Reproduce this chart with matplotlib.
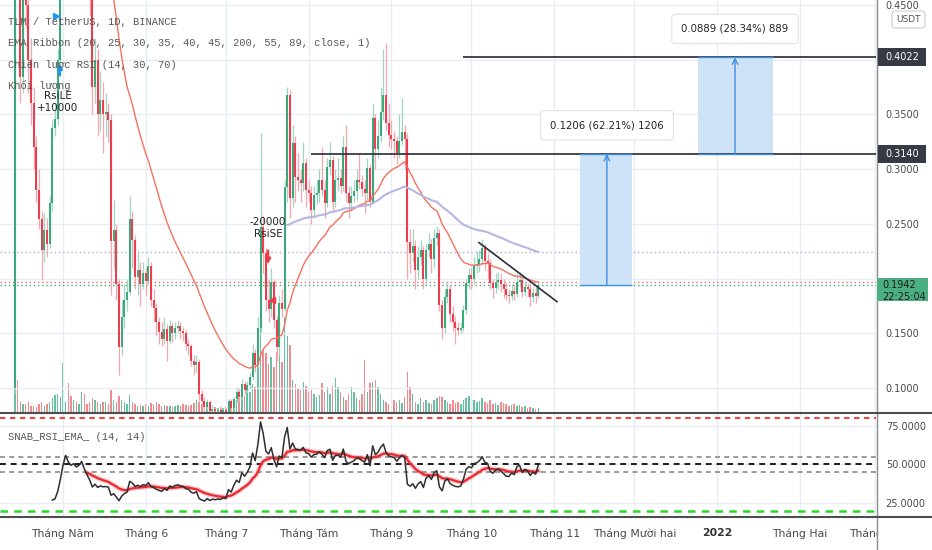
import numpy as np
import pandas as pd
import matplotlib
matplotlib.use("Agg")
import matplotlib.pyplot as plt
import matplotlib.dates as mdates
from matplotlib.patches import Rectangle, FancyBboxPatch
from matplotlib.lines import Line2D
from matplotlib.transforms import IdentityTransform

# ---- TLM / USDT daily candles ----
start_date = "2021-04-13"
first_open = 0.100

closes = [0.75, 0.65, 0.384, 0.50, 0.45, 0.40, 0.36, 0.32, 0.281, 0.254,
          0.226, 0.244, 0.232, 0.269, 0.338, 0.346, 0.40, 0.50, 0.65, 0.78,
          0.70, 0.66, 0.68, 0.64, 0.66, 0.70, 0.62, 0.55, 0.48, 0.375,
          0.40, 0.35, 0.363, 0.35, 0.352, 0.345, 0.234, 0.244, 0.195, 0.137,
          0.165, 0.18, 0.188, 0.254, 0.235, 0.201, 0.208, 0.195, 0.205, 0.198,
          0.211, 0.18, 0.173, 0.16, 0.151, 0.145, 0.154, 0.143, 0.157, 0.15,
          0.155, 0.157, 0.152, 0.15, 0.14, 0.138, 0.125, 0.121, 0.124, 0.094,
          0.088, 0.083, 0.087, 0.079, 0.081, 0.079, 0.08, 0.078, 0.08, 0.078,
          0.088, 0.082, 0.09, 0.096, 0.092, 0.104, 0.098, 0.103, 0.11, 0.132,
          0.121, 0.155, 0.247, 0.223, 0.18, 0.172, 0.197, 0.162, 0.137, 0.178,
          0.172, 0.284, 0.368, 0.274, 0.324, 0.293, 0.29, 0.287, 0.306, 0.281,
          0.278, 0.263, 0.276, 0.278, 0.29, 0.281, 0.269, 0.302, 0.308, 0.27,
          0.29, 0.292, 0.285, 0.32, 0.278, 0.269, 0.275, 0.28, 0.29, 0.288,
          0.282, 0.278, 0.301, 0.27, 0.347, 0.318, 0.33, 0.352, 0.368, 0.342,
          0.331, 0.328, 0.326, 0.315, 0.326, 0.334, 0.328, 0.233, 0.223, 0.23,
          0.208, 0.22, 0.226, 0.20, 0.226, 0.232, 0.218, 0.237, 0.242, 0.176,
          0.155, 0.183, 0.19, 0.168, 0.16, 0.155, 0.153, 0.155, 0.171, 0.196,
          0.203, 0.20, 0.211, 0.213, 0.218, 0.228, 0.216, 0.214, 0.196, 0.191,
          0.197, 0.199, 0.195, 0.19, 0.185, 0.184, 0.189, 0.186, 0.197, 0.199,
          0.188, 0.192, 0.19, 0.183, 0.187, 0.184, 0.1942]

highs = [0.92, 0.80, 0.68, 0.56, 0.53, 0.47, 0.42, 0.375, 0.33, 0.30,
         0.262, 0.26, 0.255, 0.275, 0.345, 0.36, 0.41, 0.52, 0.68, 0.85,
         0.80, 0.72, 0.71, 0.70, 0.69, 0.74, 0.71, 0.63, 0.57, 0.49,
         0.42, 0.41, 0.39, 0.38, 0.37, 0.36, 0.35, 0.272, 0.25, 0.20,
         0.18, 0.195, 0.20, 0.275, 0.262, 0.24, 0.225, 0.215, 0.215, 0.21,
         0.22, 0.215, 0.19, 0.178, 0.165, 0.16, 0.165, 0.158, 0.162, 0.16,
         0.16, 0.162, 0.16, 0.156, 0.153, 0.145, 0.14, 0.13, 0.13, 0.126,
         0.098, 0.092, 0.09, 0.089, 0.084, 0.083, 0.082, 0.082, 0.082, 0.082,
         0.09, 0.09, 0.092, 0.10, 0.099, 0.108, 0.106, 0.106, 0.115, 0.14,
         0.136, 0.165, 0.333, 0.258, 0.228, 0.20, 0.21, 0.20, 0.166, 0.185,
         0.19, 0.29, 0.375, 0.372, 0.34, 0.33, 0.315, 0.30, 0.325, 0.31,
         0.29, 0.285, 0.285, 0.29, 0.30, 0.32, 0.29, 0.31, 0.325, 0.312,
         0.30, 0.31, 0.30, 0.33, 0.34, 0.285, 0.285, 0.29, 0.30, 0.315,
         0.295, 0.29, 0.31, 0.305, 0.36, 0.35, 0.345, 0.375, 0.41, 0.415,
         0.36, 0.345, 0.335, 0.33, 0.35, 0.365, 0.34, 0.333, 0.245, 0.245,
         0.235, 0.23, 0.235, 0.23, 0.232, 0.242, 0.236, 0.245, 0.248, 0.245,
         0.18, 0.19, 0.196, 0.194, 0.175, 0.166, 0.16, 0.16, 0.176, 0.20,
         0.21, 0.21, 0.22, 0.225, 0.226, 0.236, 0.232, 0.222, 0.218, 0.20,
         0.205, 0.206, 0.205, 0.20, 0.196, 0.19, 0.195, 0.194, 0.205, 0.206,
         0.203, 0.197, 0.196, 0.194, 0.192, 0.192, 0.197]

lows = [0.095, 0.60, 0.36, 0.37, 0.43, 0.37, 0.34, 0.30, 0.27, 0.245,
        0.199, 0.215, 0.22, 0.228, 0.262, 0.33, 0.34, 0.39, 0.49, 0.63,
        0.66, 0.62, 0.64, 0.60, 0.62, 0.65, 0.60, 0.52, 0.44, 0.35,
        0.36, 0.33, 0.335, 0.315, 0.33, 0.325, 0.185, 0.21, 0.18, 0.112,
        0.13, 0.155, 0.17, 0.185, 0.21, 0.19, 0.185, 0.175, 0.19, 0.185,
        0.195, 0.175, 0.16, 0.148, 0.14, 0.138, 0.14, 0.125, 0.14, 0.142,
        0.145, 0.15, 0.145, 0.143, 0.135, 0.13, 0.12, 0.112, 0.115, 0.088,
        0.083, 0.079, 0.08, 0.075, 0.076, 0.076, 0.077, 0.075, 0.076, 0.075,
        0.076, 0.079, 0.08, 0.087, 0.088, 0.09, 0.094, 0.095, 0.10, 0.108,
        0.115, 0.118, 0.15, 0.205, 0.17, 0.16, 0.165, 0.155, 0.125, 0.13,
        0.165, 0.17, 0.27, 0.255, 0.265, 0.27, 0.28, 0.27, 0.28, 0.265,
        0.27, 0.25, 0.255, 0.268, 0.27, 0.275, 0.255, 0.265, 0.295, 0.262,
        0.265, 0.28, 0.278, 0.28, 0.27, 0.255, 0.262, 0.27, 0.272, 0.282,
        0.275, 0.26, 0.272, 0.265, 0.268, 0.30, 0.31, 0.325, 0.345, 0.335,
        0.32, 0.318, 0.31, 0.305, 0.31, 0.322, 0.30, 0.20, 0.205, 0.215,
        0.19, 0.20, 0.212, 0.19, 0.195, 0.22, 0.205, 0.21, 0.23, 0.17,
        0.145, 0.15, 0.178, 0.16, 0.152, 0.14, 0.148, 0.15, 0.152, 0.168,
        0.19, 0.19, 0.195, 0.205, 0.206, 0.212, 0.208, 0.20, 0.19, 0.182,
        0.187, 0.19, 0.188, 0.182, 0.18, 0.178, 0.18, 0.18, 0.183, 0.192,
        0.183, 0.184, 0.183, 0.175, 0.179, 0.178, 0.182]

# volume, relative units
volumes = [60, 32, 10, 8, 8, 10, 6, 6, 5, 8,
           10, 6, 8, 10, 14, 17, 18, 15, 49, 10,
           29, 16, 12, 10, 8, 20, 18, 8, 10, 14,
           12, 10, 8, 10, 10, 8, 22, 12, 10, 16,
           12, 10, 8, 17, 10, 8, 6, 7, 6, 8,
           6, 9, 8, 10, 8, 6, 7, 6, 6, 5,
           6, 7, 6, 8, 7, 6, 7, 9, 12, 10,
           8, 6, 5, 6, 5, 5, 4, 5, 4, 5,
           6, 8, 10, 12, 14, 18, 16, 22, 20, 28,
           25, 50, 99, 62, 59, 48, 55, 45, 60, 64,
           50, 95, 76, 67, 32, 28, 24, 22, 30, 26,
           20, 22, 18, 15, 17, 29, 20, 25, 18, 26,
           34, 25, 20, 15, 12, 18, 25, 20, 14, 12,
           18, 52, 20, 29, 30, 32, 25, 18, 12, 10,
           8, 9, 12, 10, 12, 9, 15, 40, 25, 18,
           10, 8, 14, 10, 12, 9, 8, 12, 14, 16,
           15, 12, 10, 8, 12, 9, 10, 8, 12, 14,
           16, 17, 12, 10, 11, 14, 10, 9, 12, 8,
           9, 7, 10, 9, 8, 6, 7, 8, 6, 7,
           5, 6, 4, 5, 4, 3, 4]

month_starts = ["2021-05-01", "2021-06-01", "2021-07-01", "2021-08-01", "2021-09-01",
                "2021-10-01", "2021-11-01", "2021-12-01", "2022-01-01", "2022-02-01",
                "2022-03-01"]
month_labels = ["Tháng Năm", "Tháng 6", "Tháng 7", "Tháng Tám", "Tháng 9", "Tháng 10",
                "Tháng 11", "Tháng Mười hai", "2022", "Tháng Hai", "Tháng Ba"]
price_ticks = [0.10, 0.15, 0.20, 0.25, 0.30, 0.35, 0.40, 0.45]
rsi_ticks = [25, 50, 75]

level_entry, level_t1, level_t2 = 0.1942, 0.3140, 0.4022
measure1_text = "0.1206 (62.21%) 1206"
measure2_text = "0.0889 (28.34%) 889"
countdown = "22:25:04"

# ---- indicators ----
dates = pd.date_range(start_date, periods=len(closes), freq="D")
x = mdates.date2num(dates)
opens = [first_open] + closes[:-1]
cl = pd.Series(closes)
ema_fast = cl.ewm(span=30, adjust=False).mean().values
ema_slow = cl.ewm(span=89, adjust=False).mean().values
ema_slow_vis = ema_slow.copy()
ema_slow_vis[:102] = np.nan

chg = np.diff(closes)
up = np.clip(chg, 0, None)
dn = np.clip(-chg, 0, None)
rsi = np.full(len(closes), np.nan)
au, ad = up[:14].mean(), dn[:14].mean()
rsi[14] = 100 - 100 / (1 + au / ad)
for k in range(14, len(chg)):
    au = (au * 13 + up[k]) / 14
    ad = (ad * 13 + dn[k]) / 14
    rsi[k + 1] = 100 - 100 / (1 + au / ad)
rsi_ema = np.full(len(closes), np.nan)
rsi_ema[27] = np.nanmean(rsi[14:28])
a = 2 / 15
for k in range(28, len(closes)):
    rsi_ema[k] = a * rsi[k] + (1 - a) * rsi_ema[k - 1]

def d(s):
    return mdates.date2num(pd.Timestamp(s))

# ---- figure ----
W, H = 932, 550
fig = plt.figure(figsize=(W / 100, H / 100), dpi=100)
fig.patch.set_facecolor("white")
ax = fig.add_axes([0, 1 - 412 / H, 876 / W, 412 / H])
axr = fig.add_axes([0, 1 - 517 / H, 876 / W, 104 / H])
axv = ax.twinx()
ax.set_zorder(axv.get_zorder() + 1)
ax.patch.set_visible(False)

xmin, xmax = d("2021-04-07 10:00"), d("2022-03-01 12:00")
grid_c = "#e8edf3"
txt_c = "#4a4a4a"
up_c, dn_c = "#3aa97c", "#ee3e4e"
upw_c, dnw_c = "#9fd6c2", "#f6a6ae"

for a_ in (ax, axr, axv):
    a_.set_xlim(xmin, xmax)
    for s in a_.spines.values():
        s.set_visible(False)

# volume
axv.set_ylim(0, 412)
vcol = ["#66c1a3" if c >= o else "#f28a91" for o, c in zip(opens, closes)]
axv.bar(x, volumes, width=0.55, color=vcol, linewidth=0)
axv.set_yticks([])

# price pane (0.40 and 0.20 sit under the level boxes, so no text there)
ax.set_ylim(0.078, 0.4546)
ax.set_axisbelow(True)
ax.set_xticks(mdates.date2num(pd.to_datetime(month_starts)))
ax.set_yticks(price_ticks)
ax.set_yticklabels(["" if t in (0.20, 0.40) else "%.4f" % t for t in price_ticks])
ax.yaxis.tick_right()
ax.tick_params(axis="x", length=0, labelbottom=False)
ax.tick_params(axis="y", length=0, pad=7, labelsize=7, labelcolor=txt_c)
ax.grid(True, color=grid_c, lw=1)

is_up = np.array(closes) >= np.array(opens)
ax.vlines(x, lows, highs, colors=[upw_c if u else dnw_c for u in is_up], lw=0.9, zorder=2)
body_lo = np.minimum(opens, closes)
body_h = np.maximum(np.abs(np.array(closes) - np.array(opens)), 0.0008)
ax.bar(x, body_h, bottom=body_lo, width=0.75, color=[up_c if u else dn_c for u in is_up],
       linewidth=0, zorder=3)

ax.plot(x, ema_fast, color="#f5705f", lw=1.0, zorder=4)
ax.plot(x, ema_slow_vis, color="#b6b6e4", lw=1.5, zorder=4)

ax.axhline(ema_slow[-1], color="#a9a9dc", ls=(0, (1, 2)), lw=1, zorder=1)
ax.axhline(ema_fast[-1], color="#f26d6d", ls=(0, (1, 2)), lw=1, zorder=1)
ax.axhline(closes[-1], color="#3aa97c", ls=(0, (1, 2)), lw=1, zorder=1)

# drawings: levels, trendline, measure boxes
ax.hlines(level_t1, d("2021-08-01 22:00"), xmax, color="#363a45", lw=1.3, zorder=5)
ax.hlines(level_t2, d("2021-09-27 19:00"), xmax, color="#363a45", lw=1.3, zorder=5)
ax.plot([d("2021-10-03 19:00"), d("2021-11-02")], [0.2328, 0.1789], color="#2a2e39", lw=1.2, zorder=5)

boxes = [(d("2021-11-10 14:00"), d("2021-11-30"), d("2021-11-20 17:00"), level_entry, level_t1, measure1_text),
         (d("2021-12-24 19:00"), d("2022-01-21 22:00"), d("2022-01-07 17:00"), level_t1, level_t2, measure2_text)]
for x0, x1, xa, y0, y1, label in boxes:
    ax.add_patch(Rectangle((x0, y0), x1 - x0, y1 - y0, facecolor="#cfe3f8", edgecolor="none", zorder=4))
    ax.hlines([y0, y1], x0, x1, color="#3d8fe0", lw=1, zorder=5)
    ax.annotate("", xy=(xa, y1), xytext=(xa, y0),
                arrowprops=dict(arrowstyle="->", color="#3d8fe0", lw=1, shrinkA=0, shrinkB=0,
                                mutation_scale=10), zorder=6)
    ax.text(xa, y1 + 0.026, label, ha="center", va="center", fontsize=7.3, color="#222222", zorder=7,
            bbox=dict(boxstyle="round,pad=0.95,rounding_size=0.35", fc="white", ec="#e2e2e2", lw=0.8))

# strategy marks
ax.text(d("2021-04-29 02:00"), 0.361, "RsiLE\n+10000", ha="center", va="center", fontsize=7.5,
        color="#222222", linespacing=1.25, zorder=7)
ax.annotate("", xy=(d("2021-04-29 21:00"), 0.399), xytext=(d("2021-04-29 21:00"), 0.383),
            arrowprops=dict(arrowstyle="-|>", color="#2196f3", lw=1.6, mutation_scale=7), zorder=7)
ax.plot(d("2021-04-28 10:00"), 0.440, marker=">", color="#2196f3", ms=5, zorder=7)
ax.text(d("2021-07-16 19:00"), 0.246, "-20000\nRsiSE", ha="center", va="center", fontsize=7.5,
        color="#222222", linespacing=1.25, zorder=7)
ax.annotate("", xy=(d("2021-07-16 19:00"), 0.2105), xytext=(d("2021-07-16 19:00"), 0.228),
            arrowprops=dict(arrowstyle="-|>", color="#f23645", lw=1.8, mutation_scale=7), zorder=7)
ax.plot(d("2021-07-18 07:00"), 0.180, marker="<", color="#f23645", ms=5, zorder=7)

# RSI pane
axr.set_ylim(15.9, 83.4)
axr.set_axisbelow(True)
axr.set_yticks(rsi_ticks)
axr.set_yticklabels(["%.4f" % t for t in rsi_ticks])
axr.yaxis.tick_right()
axr.set_xticks(mdates.date2num(pd.to_datetime(month_starts)))
axr.set_xticklabels(month_labels)
axr.tick_params(axis="y", length=0, pad=7, labelsize=7, labelcolor=txt_c)
axr.tick_params(axis="x", length=0, pad=8, labelsize=7.8, labelcolor=txt_c)
axr.get_xticklabels()[8].set_fontweight("bold")
axr.get_xticklabels()[8].set_color("#333333")
axr.grid(True, color=grid_c, lw=1)
axr.axhline(80, color="#ff2a2a", lw=1.3, ls=(0, (3, 2.5)))
axr.axhline(55, color="#8a8a8a", lw=1.2, ls=(0, (3, 2.5)))
axr.axhline(50, color="#1c1c1c", lw=1.4, ls=(0, (3, 2.5)))
axr.axhline(45, color="#8a8a8a", lw=1.2, ls=(0, (3, 2.5)))
axr.axhline(20, color="#22dd22", lw=1.8, ls=(0, (3, 2.5)))
axr.plot(x, rsi_ema, color="#f04a50", lw=3.5, alpha=0.3)
axr.plot(x, rsi_ema, color="#ea2a33", lw=1.6)
axr.plot(x, rsi, color="#2e2e2e", lw=1.1)

# legends (mono first, fall back for Vietnamese letters)
mono = ["Liberation Mono", "DejaVu Sans Mono", "DejaVu Sans"]
for i, s in enumerate(["TLM / TetherUS, 1D, BINANCE",
                       "EMA Ribbon (20, 25, 30, 35, 40, 45, 200, 55, 89, close, 1)",
                       "Chiến lược RSI (14, 30, 70)",
                       "Khối lượng"]):
    fig.text(8 / W, 1 - (22 + 21.3 * i) / H, s, family=mono, fontsize=7.5, color="#555555", va="center")
fig.text(8 / W, 1 - 437 / H, "SNAB_RSI_EMA_ (14, 14)", family=mono, fontsize=7.5, color="#555555",
         va="center")

# right price-scale labels
fig.canvas.draw()
def ypx(price):
    return ax.transData.transform((xmin, price))[1]

def scale_box(price, text, fc, tc, h=18, lines=None):
    yc = ypx(price)
    if lines is None:
        fig.add_artist(Rectangle((878, yc - h / 2), 48, h, transform=IdentityTransform(),
                                 facecolor=fc, edgecolor="none", zorder=10))
        fig.text(902 / W, yc / H, text, ha="center", va="center", fontsize=7, color=tc, zorder=11)
    else:
        fig.add_artist(Rectangle((877, yc - 16), 51, 23, transform=IdentityTransform(),
                                 facecolor=fc, edgecolor="none", zorder=10))
        fig.text(882 / W, yc / H, lines[0], ha="left", va="center", fontsize=7, color=tc, zorder=11)
        fig.text(882 / W, (yc - 12) / H, lines[1], ha="left", va="center", fontsize=7, color=tc, zorder=11)

scale_box(level_t2, "%.4f" % level_t2, "#363a45", "white")
scale_box(level_t1, "%.4f" % level_t1, "#363a45", "white")
scale_box(closes[-1], None, "#4caf84", "#1d1d1d", lines=["%.4f" % closes[-1], countdown])

fig.add_artist(FancyBboxPatch((892, H - 28), 33, 17, boxstyle="round,pad=0,rounding_size=3",
                              transform=IdentityTransform(), facecolor="white", edgecolor="#d0d0d0",
                              lw=0.8, zorder=10))
fig.text(908.5 / W, 1 - 19.5 / H, "USDT", ha="center", va="center", fontsize=6.5, color="#555555", zorder=11)

# clip the last month label, pane separators
fig.add_artist(Rectangle((877, 0), 55, H - 517, transform=IdentityTransform(), facecolor="white",
                         edgecolor="none", zorder=8))
fig.add_artist(Line2D([876.5, 876.5], [0, H], transform=IdentityTransform(), color="#8c8c8c", lw=1, zorder=9))
fig.add_artist(Line2D([0, W], [H - 412.5, H - 412.5], transform=IdentityTransform(), color="#4d4d4d", lw=1.5, zorder=9))
fig.add_artist(Line2D([0, W], [H - 517, H - 517], transform=IdentityTransform(), color="#4d4d4d", lw=1.5, zorder=9))

fig.savefig("out.png", dpi=100)
